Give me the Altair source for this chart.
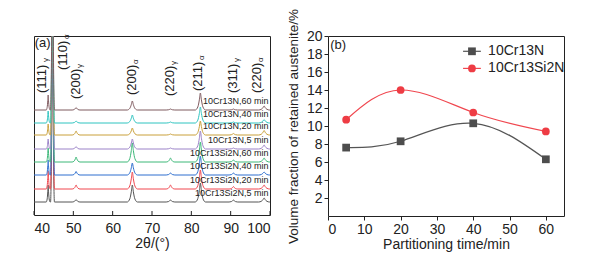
import altair as alt
import pandas as pd

FONT = "Liberation Sans"
INK = "#222222"

# ---------------- Panel (a): XRD patterns ----------------
peak_pos = [43.6, 44.7, 50.7, 65.0, 74.7, 82.3, 90.7, 98.5]
curve_names = ["10Cr13Si2N,5 min", "10Cr13Si2N,20 min", "10Cr13Si2N,40 min",
               "10Cr13Si2N,60 min", "10Cr13N,5 min", "10Cr13N,20 min",
               "10Cr13N,40 min", "10Cr13N,60 min"]
curve_colors = ["#555555", "#f0474f", "#2e6fcf", "#3cb878",
                "#9b82c8", "#c9a03a", "#2ec4c0", "#7f5a5f"]
curve_base = [13, 26, 40, 53, 66, 80, 92, 105]
# peak heights above each baseline: (111)g (110)a (200)g (200)a (220)g (211)a (311)g (220)a
h_si_5 = [17, 300, 2.5, 17, 2, 19, 2, 4]
h_si_20 = [18, 300, 4, 17, 4, 19, 2.5, 4]
h_si_40 = [15, 300, 3.5, 12, 2, 19, 2, 3]
h_si_60 = [14, 300, 5, 19, 4, 20, 2, 4]
h_n_5 = [10, 300, 2.5, 10, 1, 18, 1, 4]
h_n_20 = [11, 300, 4, 7, 1, 14, 1.5, 4.5]
h_n_40 = [12, 300, 2, 8, 1, 16, 1, 3.5]
h_n_60 = [15, 300, 2.5, 9, 1, 17, 1, 4]
curve_heights = [h_si_5, h_si_20, h_si_40, h_si_60, h_n_5, h_n_20, h_n_40, h_n_60]

peak_labels = ["(111)", "(110)", "(200)", "(200)", "(220)", "(211)", "(311)", "(220)"]
peak_subs = ["γ", "α", "γ", "α", "γ", "α", "γ", "α"]
label_x = [42.1, 47.4, 50.6, 65.0, 74.6, 81.6, 90.5, 96.8]
label_y = [122, 145, 116, 120, 119, 124, 122, 122]

x_ticks_a = [40, 50, 60, 70, 80, 90, 100]

# peak profile (half widths and shape are drawing style)
peak_hw = [0.5, 0.5, 1.0, 1.3, 1.1, 1.3, 1.1, 1.4]
prof_dx = [-1, -0.5, -0.2, 0, 0.2, 0.5, 1]
prof_dy = [0, 0.18, 0.6, 1, 0.6, 0.18, 0]

rows = []
for ci, (name, base, hs) in enumerate(zip(curve_names, curve_base, curve_heights)):
    pts = [(40.0, base)]
    for p, w, h in zip(peak_pos, peak_hw, hs):
        for fx, fy in zip(prof_dx, prof_dy):
            pts.append((p + fx * w, base + fy * h))
    pts.append((100.0, base))
    for k, (x, y) in enumerate(pts):
        rows.append({"curve": name, "ci": ci, "k": k, "x": x, "y": y})
xrd = pd.DataFrame(rows)

W, H = 236, 179
xa = alt.X("x:Q", scale=alt.Scale(domain=[40, 100], nice=False),
           axis=alt.Axis(values=x_ticks_a, tickCount=50, format="d", title="2θ/(°)",
                         tickSize=0, labelPadding=6, domain=False, grid=False, titlePadding=1,
                         labelOverlap=False))
ya = alt.Y("y:Q", scale=alt.Scale(domain=[0, 179], nice=False), axis=None)

lines_a = alt.Chart(xrd).mark_line(clip=True, strokeWidth=1, interpolate="monotone").encode(
    x=xa, y=ya,
    color=alt.Color("curve:N", scale=alt.Scale(domain=curve_names, range=curve_colors), legend=None),
    detail="curve:N",
    order="k:Q",
)

cl = pd.DataFrame({"name": curve_names, "x": [99.6] * 8, "y": [b + 9 for b in curve_base]})
curve_text = alt.Chart(cl).mark_text(align="right", baseline="middle", fontSize=9,
                                     font=FONT, color=INK).encode(
    x="x:Q", y="y:Q", text="name:N")

pl = pd.DataFrame({"t": peak_labels, "s": peak_subs, "x": label_x, "y": label_y})
peak_text = alt.Chart(pl).mark_text(angle=270, align="left", baseline="middle",
                                    fontSize=13, font=FONT, color=INK).encode(
    x="x:Q", y="y:Q", text="t:N")
peak_sub = alt.Chart(pl).mark_text(angle=270, align="left", baseline="middle", dx=31, dy=4,
                                   fontSize=8, font=FONT, color=INK).encode(
    x="x:Q", y="y:Q", text="s:N")

tag_a = alt.Chart(pd.DataFrame({"t": ["(a)"], "x": [40.2], "y": [172]})).mark_text(
    align="left", baseline="middle", fontSize=13, font=FONT, color=INK).encode(
    x="x:Q", y="y:Q", text="t:N")

ticks_a = alt.Chart(pd.DataFrame({"x": x_ticks_a})).mark_rule(color=INK, strokeWidth=1).encode(
    x="x:Q", y=alt.value(H), y2=alt.value(H - 4))

panel_a = alt.layer(lines_a, ticks_a, curve_text, peak_text, peak_sub, tag_a).properties(
    width=W, height=H)

# ---------------- Panel (b): retained austenite ----------------
times = [5, 20, 40, 60]
series_names = ["10Cr13N", "10Cr13Si2N"]
vf_n = [7.6, 8.3, 10.3, 6.3]
vf_si = [10.7, 14.0, 11.5, 9.4]
series_colors = ["#555555", "#f0474f"]
marker_colors = ["#4d4d4d", "#ee3c44"]
series_shapes = ["square", "circle"]

x_ticks_b = [0, 10, 20, 30, 40, 50, 60]
y_ticks_b = [2, 4, 6, 8, 10, 12, 14, 16, 18, 20]

dfb = pd.DataFrame({
    "t": times * 2,
    "v": vf_n + vf_si,
    "s": [series_names[0]] * 4 + [series_names[1]] * 4,
})

color_b = alt.Scale(domain=series_names, range=series_colors)
fill_b = alt.Scale(domain=series_names, range=marker_colors)
shape_b = alt.Scale(domain=series_names, range=series_shapes)

xb = alt.X("t:Q", scale=alt.Scale(domain=[0, 65], nice=False),
           axis=alt.Axis(values=x_ticks_b, tickCount=50, format="d",
                         title="Partitioning time/min",
                         tickSize=4, labelPadding=2, domain=False, grid=False, titlePadding=1,
                         labelOverlap=False))
yb = alt.Y("v:Q", scale=alt.Scale(domain=[0, 20], nice=False),
           axis=alt.Axis(values=y_ticks_b, tickCount=50, format="d",
                         title="Volume fraction of retained austenite/%", titleFontSize=13.5,
                         tickSize=4, labelPadding=2, domain=False, grid=False, titlePadding=6,
                         labelOverlap=False))

line_b = alt.Chart(dfb).mark_line(strokeWidth=1.2, interpolate="natural").encode(
    x=xb, y=yb, color=alt.Color("s:N", scale=color_b, legend=None))
pts_b = alt.Chart(dfb).mark_point(filled=True, size=60, opacity=1).encode(
    x="t:Q", y="v:Q",
    fill=alt.Fill("s:N", scale=fill_b, legend=None),
    shape=alt.Shape("s:N", scale=shape_b, legend=None))

# in-plot legend (key placed in data units of panel b)
leg = pd.DataFrame({"s": series_names, "x1": [37.2, 37.2], "x2": [42.1, 42.1],
                    "xm": [39.65, 39.65], "xt": [44.1, 44.1], "y": [18.3, 16.4]})
leg_line = alt.Chart(leg).mark_rule(strokeWidth=1.2).encode(
    x="x1:Q", x2="x2:Q", y="y:Q", color=alt.Color("s:N", scale=color_b, legend=None))
leg_pt = alt.Chart(leg).mark_point(filled=True, size=60, opacity=1).encode(
    x="xm:Q", y="y:Q", fill=alt.Fill("s:N", scale=fill_b, legend=None),
    shape=alt.Shape("s:N", scale=shape_b, legend=None))
leg_txt = alt.Chart(leg).mark_text(align="left", baseline="middle", fontSize=14,
                                   font=FONT, color=INK).encode(
    x="xt:Q", y="y:Q", text="s:N")

tag_b = alt.Chart(pd.DataFrame({"t": ["(b)"], "x": [0.6], "y": [19.0]})).mark_text(
    align="left", baseline="middle", fontSize=13, font=FONT, color=INK).encode(
    x="x:Q", y="y:Q", text="t:N")

panel_b = alt.layer(line_b, pts_b, leg_line, leg_pt, leg_txt, tag_b).properties(
    width=236, height=180)

chart = alt.hconcat(panel_a, panel_b, spacing=14).properties(
    padding={"left": 25, "top": 0, "right": 2, "bottom": 0}
).configure_view(stroke=INK, strokeWidth=1).configure_axis(
    labelFont=FONT, labelFontSize=14, labelColor=INK, titleFont=FONT, titleFontSize=14,
    titleColor=INK, titleFontWeight="normal", tickColor=INK, labelOverlap=False
)

chart.save("out.html", embed_options={"renderer": "svg", "actions": False})
